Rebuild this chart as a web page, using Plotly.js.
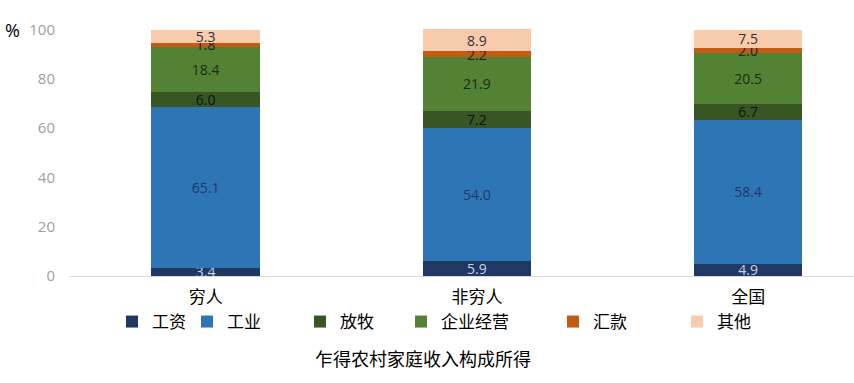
<!DOCTYPE html>
<html><head><meta charset="utf-8">
<script src="https://cdn.plot.ly/plotly-3.0.1.min.js"></script>
<style>html,body{margin:0;padding:0;background:#fff}#chart{width:854px;height:383px}</style>
</head><body><div id="chart"></div>
<script>
const categories = ['穷人', '非穷人', '全国'];
const seriesNames = ['工资', '工业', '放牧', '企业经营', '汇款', '其他'];
const wages = [3.4, 5.9, 4.9];
const industry = [65.1, 54.0, 58.4];
const herding = [6.0, 7.2, 6.7];
const enterprise = [18.4, 21.9, 20.5];
const remittance = [1.8, 2.2, 2.0];
const other = [5.3, 8.9, 7.5];
const yTicks = [0, 20, 40, 60, 80, 100];
const xTitle = '乍得农村家庭收入构成所得';

const seriesValues = [wages, industry, herding, enterprise, remittance, other];
const colors = ['#203864', '#2E75B6', '#375623', '#548235', '#C55A11', '#F8CBAD'];
const textColors = ['#c9d3e6', '#1f3864', '#111111', '#1a2a10', '#222222', '#333333'];
const legendX = [112, 187, 300, 401, 553, 677];
const cjk = '"Noto Sans CJK SC", "Noto Sans", sans-serif';
const num = '"Open Sans", "Liberation Sans", sans-serif';

const traces = seriesValues.map((vals, i) => ({
  type: 'bar', name: seriesNames[i], x: categories, y: vals,
  marker: {color: colors[i], line: {width: 0}},
  texttemplate: '%{y:.1f}', textposition: 'inside', insidetextanchor: 'middle',
  constraintext: 'none', textangle: 0, cliponaxis: false,
  textfont: {family: num, size: 14, color: textColors[i]},
  legend: i === 0 ? 'legend' : 'legend' + (i + 1),
  hoverinfo: 'skip'
}));

const layout = {
  width: 854, height: 383,
  margin: {l: 70, r: 0, t: 5.4, b: 107},
  paper_bgcolor: '#fff', plot_bgcolor: '#fff',
  barmode: 'stack', bargap: 0.6,
  font: {family: cjk, color: '#000'},
  title: {text: xTitle, font: {family: cjk, size: 18, color: '#000'},
    xref: 'container', yref: 'container', x: 423 / 854, y: 1 - 360 / 383,
    xanchor: 'center', yanchor: 'middle'},
  xaxis: {
    range: [-0.5, 2.39], showline: true, linecolor: '#d9d9d9', linewidth: 1,
    ticks: '', showgrid: false, zeroline: false, fixedrange: true,
    tickfont: {family: cjk, size: 17, color: '#000'}, ticklabelstandoff: 6
  },
  yaxis: {
    range: [0, 110], tickvals: yTicks, ticktext: yTicks.map(String),
    showline: false, showgrid: false, zeroline: false, ticks: '',
    tickfont: {family: num, size: 15, color: '#a0a0a0'}, ticklabelstandoff: 14, fixedrange: true
  },
  annotations: [{text: '%', xref: 'paper', yref: 'y', x: 0, xshift: -58, y: 100, showarrow: false,
    xanchor: 'center', yanchor: 'middle', font: {family: num, size: 18, color: '#000'}}],
  showlegend: true
};
legendX.forEach((px, i) => {
  const key = i === 0 ? 'legend' : 'legend' + (i + 1);
  layout[key] = {xref: 'container', yref: 'container', x: px / 854, y: 1 - 322 / 383,
    xanchor: 'left', yanchor: 'middle', orientation: 'h', bgcolor: 'rgba(0,0,0,0)',
    font: {family: cjk, size: 17, color: '#000'}, itemwidth: 30};
});
Plotly.newPlot('chart', traces, layout, {staticPlot: true});
</script></body></html>
